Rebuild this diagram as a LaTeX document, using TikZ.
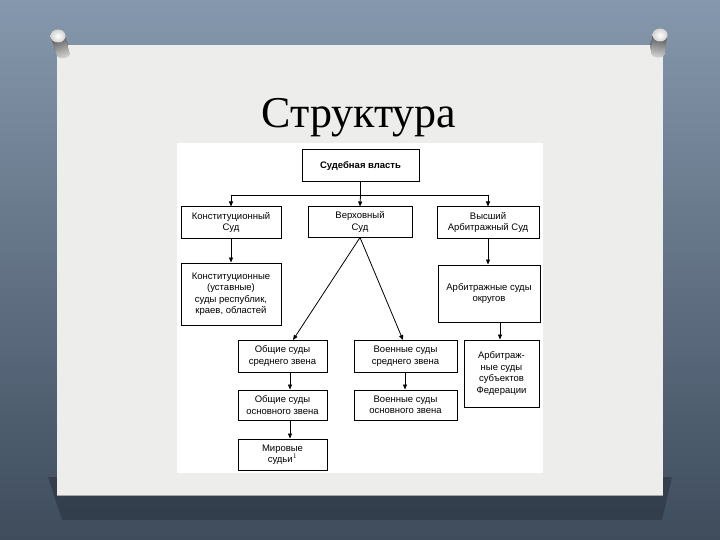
\documentclass[tikz,border=0pt]{standalone}
\usepackage{fontspec}
\setmainfont{Liberation Serif}
\newfontfamily\diagsans{Liberation Sans}
\usetikzlibrary{arrows.meta,calc}
\definecolor{bgtop}{HTML}{8698AD}
\definecolor{bgbot}{HTML}{3E4C5C}
\definecolor{paper}{HTML}{EDEDEB}
\definecolor{shadowc}{HTML}{2E3946}
\tikzset{
  box/.style={draw, line width=1pt, fill=white, align=center, inner sep=1pt,
    font=\diagsans\fontsize{9.5}{11.5}\selectfont},
  ln/.style={line width=0.8pt},
  arr/.style={line width=0.8pt, -{Triangle[length=5pt,width=4pt]}},
}
\begin{document}
\begin{tikzpicture}[x=1pt,y=-1pt]
\useasboundingbox (0,0) rectangle (720,540);
% background
\shade[top color=bgtop, bottom color=bgbot] (0,0) rectangle (720,540);
% shadow under paper
\fill[shadowc, opacity=0.75] (48,477) -- (672,477) -- (662,520) -- (62,520) -- cycle;
% paper
\fill[paper] (57,45) rectangle (663,495);
\draw[gray!70, line width=0.6pt] (57,495) -- (663,495);
% pins
\begin{scope}
  \fill[gray!40!black, opacity=0.5] (61,46) ellipse (7 and 9);
  \shade[left color=gray!70!black, right color=gray!30, shading angle=20]
    (51,38) -- (65,36) -- (70,54) .. controls (69,59) and (60,60) .. (57,56) -- cycle;
  \shade[inner color=white, outer color=gray!35] (58,36) ellipse (7.5 and 6.5);
\end{scope}
\begin{scope}
  \fill[gray!40!black, opacity=0.5] (657,46) ellipse (7 and 9);
  \shade[left color=gray!70!black, right color=gray!30, shading angle=-10]
    (652,36) -- (667,36) -- (665,54) .. controls (663,59) and (654,59) .. (651,54) -- cycle;
  \shade[inner color=white, outer color=gray!35] (660,35) ellipse (7.5 and 6.5);
\end{scope}
% title
\node[anchor=base, font=\fontsize{44}{50}\selectfont, inner sep=0pt] (title) at (359,128) {Структура};
% diagram image area
\fill[white] (177,143) rectangle (543,473);
% boxes
\node[box, minimum width=117pt, minimum height=32pt, font=\diagsans\bfseries\fontsize{9.5}{11.5}\selectfont] (top) at (360.5,166) {Судебная власть};
\node[box, minimum width=100pt, minimum height=31pt] (konst) at (231,222.5) {Конституционный\\Суд};
\node[box, minimum width=104pt, minimum height=30pt] (verkh) at (360,222) {Верховный\\Суд};
\node[box, minimum width=102pt, minimum height=31pt] (vyssh) at (488,222.5) {Высший\\Арбитражный Суд};
\node[box, minimum width=100pt, minimum height=62pt] (konst2) at (231,294) {Конституционные\\(уставные)\\суды республик,\\краев, областей};
\node[box, minimum width=102pt, minimum height=57pt] (arbokr) at (489,293.5) {Арбитражные суды\\округов};
\node[box, minimum width=89pt, minimum height=32pt] (obsred) at (282.5,356) {Общие суды\\среднего звена};
\node[box, minimum width=103pt, minimum height=32pt] (voensred) at (405.5,356) {Военные суды\\среднего звена};
\node[box, minimum width=75pt, minimum height=67pt] (arbsub) at (501.5,373.5) {Арбитраж-\\ные суды\\субъектов\\Федерации};
\node[box, minimum width=89pt, minimum height=30pt] (obosn) at (282.5,405) {Общие суды\\основного звена};
\node[box, minimum width=103pt, minimum height=30pt] (voenosn) at (405.5,405) {Военные суды\\основного звена};
\node[box, minimum width=89pt, minimum height=31pt] (mir) at (282.5,454.5) {Мировые\\судьи$^{1}$};
% connectors
\coordinate (h) at (0,195);
\coordinate (xa) at (290,0);
\coordinate (xb) at (405,0);
\coordinate (xc) at (500,0);
\coordinate (pl) at (293,340);
\coordinate (pr) at (403,340);
\draw[ln] (top.south) -- (top.south |- h);
\draw[ln] (konst.north |- h) -- (vyssh.north |- h);
\draw[arr] (konst.north |- h) -- (konst.north);
\draw[arr] (top.south |- h) -- (verkh.north);
\draw[arr] (vyssh.north |- h) -- (vyssh.north);
\draw[arr] (konst.south) -- (konst2.north);
\draw[arr] (vyssh.south) -- (arbokr.north -| vyssh.south);
\draw[arr] (verkh.south) -- (pl);
\draw[arr] (verkh.south) -- (pr);
\draw[arr] (obsred.south -| xa) -- (obosn.north -| xa);
\draw[arr] (obosn.south -| xa) -- (mir.north -| xa);
\draw[arr] (voensred.south -| xb) -- (voenosn.north -| xb);
\draw[arr] (arbokr.south -| xc) -- (arbsub.north -| xc);
\end{tikzpicture}
\end{document}
